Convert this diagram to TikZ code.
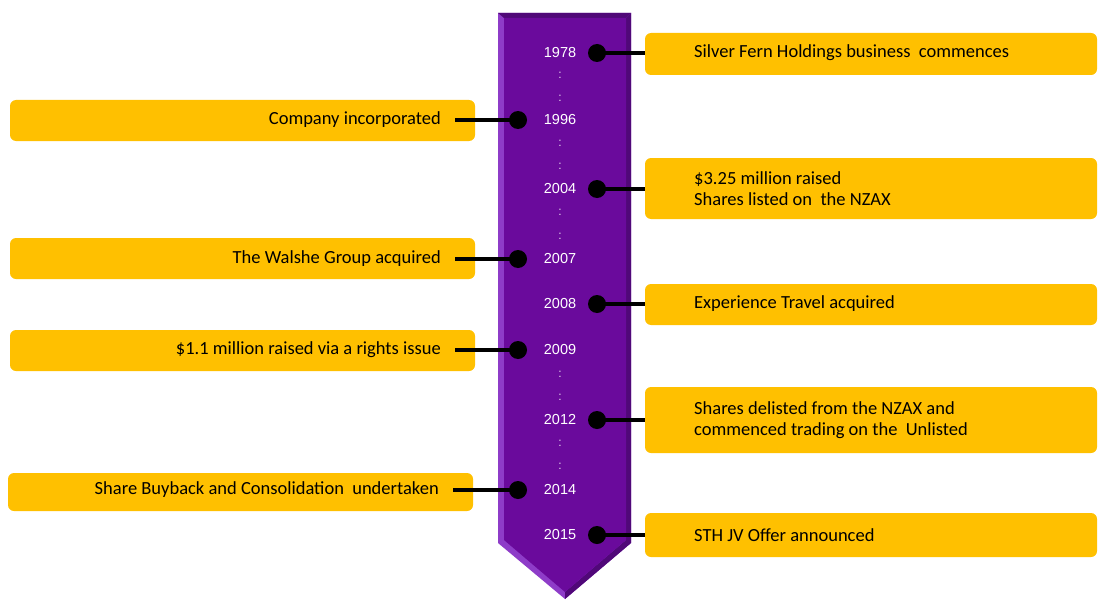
\documentclass[tikz,border=0pt]{standalone}
\usepackage{fontspec}
\setmainfont{Carlito}
\newfontfamily\yearfont{Liberation Sans}
\definecolor{boxgold}{HTML}{FFC000}
\definecolor{arrowmain}{HTML}{6A0A9C}
\definecolor{arrowlight}{HTML}{8E3CC8}
\definecolor{arrowdark}{HTML}{500878}
\tikzset{
  goldbox/.style={fill=boxgold, rounded corners=6pt, draw=none},
  evtext/.style={font=\fontsize{18.5}{21}\selectfont, inner sep=0pt},
  yeartext/.style={font=\yearfont\fontsize{14.5}{16}\selectfont, text=white, inner sep=0pt},
  gapdots/.style={font=\yearfont\fontsize{12}{12}\selectfont, text=white!85!arrowmain, inner sep=0pt},
  dot/.style={circle, fill=black, minimum size=18pt, inner sep=0pt},
  link/.style={line width=3.5pt}
}
\begin{document}
\begin{tikzpicture}[x=1pt, y=-1pt]
        \useasboundingbox (0,0) rectangle (1099,599);

        % the arrow down the middle
        \fill[arrowlight] (498,13) -- (631,13) -- (631,543) -- (565,599) -- (498,543) -- cycle;
        \fill[arrowdark] (631,13) -- (631,543) -- (565,599) -- (565,592) -- (626,540) -- (626,18) -- cycle;
        \fill[arrowdark] (498,13) -- (631,13) -- (626,18) -- (504,18) -- cycle;
        \fill[arrowmain] (504,18) -- (626,18) -- (626,540) -- (565,592) -- (504,540) -- cycle;

        % boxes on the right
        \fill[goldbox] (645,33) rectangle (1097,75);
        \fill[goldbox] (645,158) rectangle (1097,219);
        \fill[goldbox] (645,284) rectangle (1097,325);
        \fill[goldbox] (645,387) rectangle (1097,453);
        \fill[goldbox] (645,513) rectangle (1097,557);
        % boxes on the left
        \fill[goldbox] (10,100) rectangle (475,141);
        \fill[goldbox] (10,238) rectangle (475,279);
        \fill[goldbox] (10,330) rectangle (475,371);
        \fill[goldbox] (8,473) rectangle (473,511);

        % years
        \node[yeartext] (y1978) at (560,53) {1978};
        \node[yeartext] (y1996) at (560,120) {1996};
        \node[yeartext] (y2004) at (560,189) {2004};
        \node[yeartext] (y2007) at (560,259) {2007};
        \node[yeartext] (y2008) at (560,304) {2008};
        \node[yeartext] (y2009) at (560,350) {2009};
        \node[yeartext] (y2012) at (560,420) {2012};
        \node[yeartext] (y2014) at (560,490) {2014};
        \node[yeartext] (y2015) at (560,535) {2015};

        % skipped years
        \foreach \yy in {75,98,143,166,212,236,374,397,443,466}
            \node[gapdots] at (560,\yy) {:};

        % dots
        \node[dot] (d1978) at (597,53) {};
        \node[dot] (d1996) at (518,120) {};
        \node[dot] (d2004) at (597,189) {};
        \node[dot] (d2007) at (518,259) {};
        \node[dot] (d2008) at (597,304) {};
        \node[dot] (d2009) at (518,350) {};
        \node[dot] (d2012) at (597,420) {};
        \node[dot] (d2014) at (518,490) {};
        \node[dot] (d2015) at (597,535) {};

        % events on the right
        \node[evtext, anchor=west] (e1978) at (694,53) {Silver Fern Holdings business\ \ commences};
        \node[evtext, anchor=west, align=left] (e2004) at (694,189) {\$3.25 million raised\\Shares listed on\ \ the NZAX};
        \node[evtext, anchor=west] (e2008) at (694,304) {Experience Travel acquired};
        \node[evtext, anchor=west, align=left] (e2012) at (694,420) {Shares delisted from the NZAX and\\commenced trading on the\ \ Unlisted};
        \node[evtext, anchor=west] (e2015) at (694,535) {STH JV Offer announced};

        % events on the left
        \node[evtext, anchor=east] (e1996) at (441,120) {Company incorporated};
        \node[evtext, anchor=east] (e2007) at (441,259) {The Walshe Group acquired};
        \node[evtext, anchor=east] (e2009) at (441,350) {\$1.1 million raised via a rights issue};
        \node[evtext, anchor=east] (e2014) at (439,490) {Share Buyback and Consolidation\ \ undertaken};

        % where the links meet the boxes
        \coordinate (b1978) at (645,53);
        \coordinate (b2004) at (645,189);
        \coordinate (b2008) at (645,304);
        \coordinate (b2012) at (645,420);
        \coordinate (b2015) at (645,535);
        \coordinate (b1996) at (455,120);
        \coordinate (b2007) at (455,259);
        \coordinate (b2009) at (455,350);
        \coordinate (b2014) at (453,490);

        \foreach \yr in {1978,2004,2008,2012,2015,1996,2007,2009,2014}
            \draw[link] (d\yr.center) -- (b\yr);
    \end{tikzpicture}
\end{document}
